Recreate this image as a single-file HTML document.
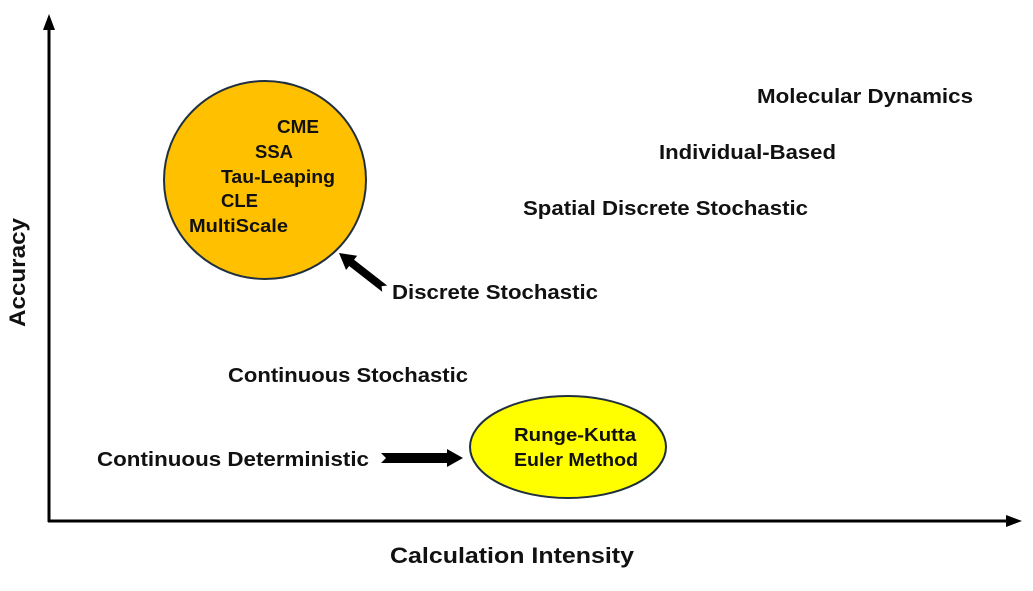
<!DOCTYPE html>
<html><head><style>
html,body{margin:0;padding:0;background:#fff;}
svg text{font-family:"Liberation Sans",Arial,sans-serif;font-weight:bold;fill:#111;}
</style></head><body>
<svg width="1033" height="586" viewBox="0 0 1033 586" xmlns="http://www.w3.org/2000/svg">
<line x1="49" y1="522" x2="49" y2="28" stroke="#000" stroke-width="3"/>
<polygon points="49,14 43,30 55,30" fill="#000"/>
<line x1="48" y1="521" x2="1008" y2="521" stroke="#000" stroke-width="3"/>
<polygon points="1022,521 1006,515 1006,527" fill="#000"/>
<text x="390" y="563" font-size="22" textLength="244" lengthAdjust="spacingAndGlyphs">Calculation Intensity</text>
<text transform="translate(25,327) rotate(-90)" font-size="22" textLength="109" lengthAdjust="spacingAndGlyphs">Accuracy</text>
<ellipse cx="265" cy="180" rx="101" ry="99" fill="#FFC000" stroke="#1f2f3f" stroke-width="2"/>
<text x="277" y="133" font-size="18" textLength="42" lengthAdjust="spacingAndGlyphs">CME</text>
<text x="255" y="158" font-size="18" textLength="38" lengthAdjust="spacingAndGlyphs">SSA</text>
<text x="221" y="183" font-size="18" textLength="114" lengthAdjust="spacingAndGlyphs">Tau-Leaping</text>
<text x="221" y="207" font-size="18" textLength="37" lengthAdjust="spacingAndGlyphs">CLE</text>
<text x="189" y="232" font-size="18" textLength="99" lengthAdjust="spacingAndGlyphs">MultiScale</text>
<ellipse cx="568" cy="447" rx="98" ry="51" fill="#FFFF00" stroke="#1f2f3f" stroke-width="2"/>
<text x="514" y="441" font-size="18" textLength="122" lengthAdjust="spacingAndGlyphs">Runge-Kutta</text>
<text x="514" y="466" font-size="18" textLength="124" lengthAdjust="spacingAndGlyphs">Euler Method</text>
<text x="757" y="103" font-size="20" textLength="216" lengthAdjust="spacingAndGlyphs">Molecular Dynamics</text>
<text x="659" y="159" font-size="20" textLength="177" lengthAdjust="spacingAndGlyphs">Individual-Based</text>
<text x="523" y="215" font-size="20" textLength="285" lengthAdjust="spacingAndGlyphs">Spatial Discrete Stochastic</text>
<text x="392" y="299" font-size="20" textLength="206" lengthAdjust="spacingAndGlyphs">Discrete Stochastic</text>
<text x="228" y="382" font-size="20" textLength="240" lengthAdjust="spacingAndGlyphs">Continuous Stochastic</text>
<text x="97" y="466" font-size="20" textLength="272" lengthAdjust="spacingAndGlyphs">Continuous Deterministic</text>
<polygon points="381,453 447,453 447,449 463,458 447,467 447,463 381,463 386,458" fill="#000"/>
<g transform="translate(339,253) rotate(38)">
<polygon points="0,0 16,-9 16,-4 58,-4 54,0 58,4 16,4 16,9" fill="#000"/>
</g>
</svg>
</body></html>
